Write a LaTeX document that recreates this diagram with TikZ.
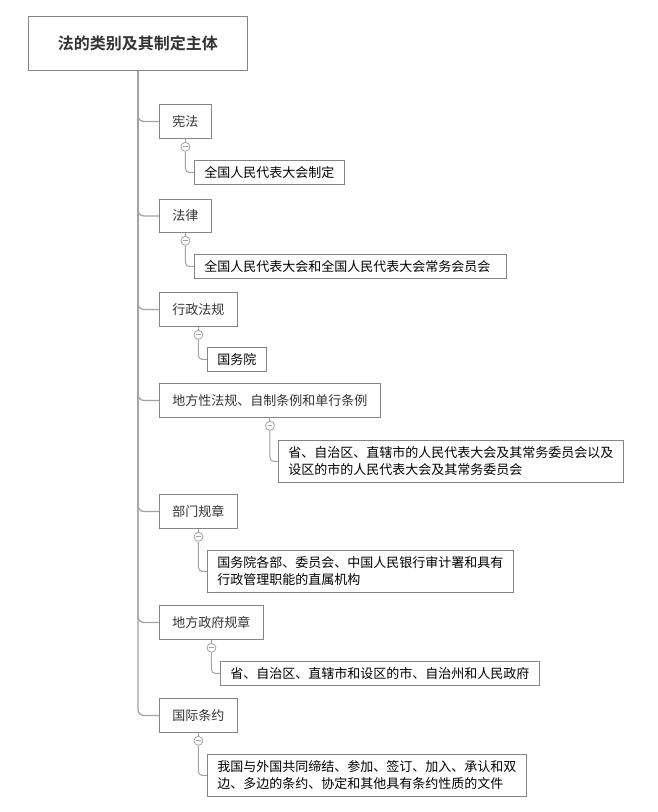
\documentclass[tikz,border=0pt]{standalone}
\usepackage{fontspec}
\newfontfamily\cjk{Noto Sans CJK SC}[BoldFont={Noto Sans CJK SC Bold}]
\usetikzlibrary{positioning}
\definecolor{boxgray}{HTML}{858585}
\definecolor{linegray}{HTML}{A3A3A3}
\definecolor{txt}{HTML}{333333}
\tikzset{
  rootbox/.style={draw=boxgray, line width=0.9pt, anchor=north west, minimum width=219pt, minimum height=54pt, inner sep=0pt, font=\cjk\bfseries\fontsize{16}{20}\selectfont, text=txt},
  childbox/.style={draw=boxgray, line width=0.9pt, anchor=north west, inner xsep=13pt, inner ysep=0pt, minimum height=34pt, font=\cjk\fontsize{13}{17}\selectfont, text=txt},
  leafbox/.style={draw=boxgray, line width=0.9pt, anchor=north west, inner xsep=10pt, inner ysep=0pt, minimum height=24pt, align=left, font=\cjk\fontsize{13}{17}\selectfont, text=black},
  tallleaf/.style={leafbox, minimum height=42pt},
  conn/.style={draw=linegray, line width=1pt, rounded corners=6pt},
  trunk/.style={draw=linegray, line width=1.3pt, rounded corners=6pt},
  togg/.style={circle, draw=linegray, fill=white, line width=0.8pt, minimum size=9pt, inner sep=0pt,
    path picture={\draw[linegray, line width=0.8pt] ([xshift=-2.3pt]path picture bounding box.center) -- ([xshift=2.3pt]path picture bounding box.center);}},
}
\begin{document}
\begin{tikzpicture}[x=1pt, y=-1pt]
\useasboundingbox (0,0) rectangle (658,812);
\node[rootbox] (root) at (28,16) {法的类别及其制定主体};

\node[childbox] (c1) at (159,104) {宪法};
\node[childbox, minimum height=33pt] (c2) at (159,199) {法律};
\node[childbox] (c3) at (159,292) {行政法规};
\node[childbox] (c4) at (159,383) {地方性法规、自制条例和单行条例};
\node[childbox] (c5) at (159,494) {部门规章};
\node[childbox] (c6) at (159,605) {地方政府规章};
\node[childbox] (c7) at (159,698) {国际条约};

\foreach \c in {c1,c2,c3,c4,c5,c6,c7}
  \draw[trunk] (root.south) |- (\c.west);

\node[leafbox] (g1) at (194,160) {全国人民代表大会制定};
\node[leafbox, minimum height=24pt, text width=292pt] (g2) at (194,254) {全国人民代表大会和全国人民代表大会常务会员会};
\node[leafbox] (g3) at (207,347) {国务院};
\node[tallleaf] (g4) at (278,440) {省、自治区、直辖市的人民代表大会及其常务委员会以及\\设区的市的人民代表大会及其常务委员会};
\node[tallleaf] (g5) at (207,550) {国务院各部、委员会、中国人民银行审计署和具有\\行政管理职能的直属机构};
\node[leafbox] (g6) at (220,661) {省、自治区、直辖市和设区的市、自治州和人民政府};
\node[tallleaf] (g7) at (207,754) {我国与外国共同缔结、参加、签订、加入、承认和双\\边、多边的条约、协定和其他具有条约性质的文件};

\foreach \i in {1,...,7} {
  \node[togg, below=3pt of c\i] (k\i) {};
  \draw[conn] (c\i.south) -- (k\i.north);
  \draw[conn, rounded corners=4pt] (k\i.south) |- (g\i.west);
}
\end{tikzpicture}
\end{document}
